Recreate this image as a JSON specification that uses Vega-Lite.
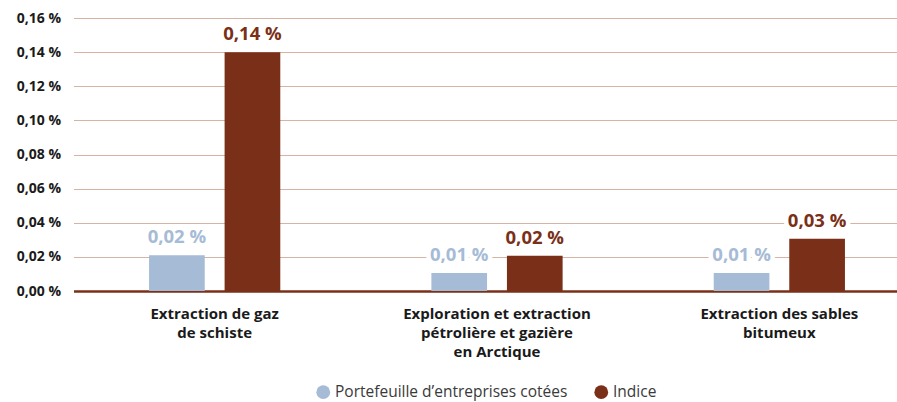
{
  "$schema": "https://vega.github.io/schema/vega-lite/v6.json",
  "width": 847,
  "height": 273,
  "autosize": {"type": "none"},
  "padding": {"left": 73.5, "top": 18, "right": 0, "bottom": 111},
  "background": "white",
  "config": {"view": {"stroke": null}, "font": "Open Sans"},
  "data": {
    "values": [
      {"cat": "Extraction de gaz|de schiste", "serie": "Portefeuille d’entreprises cotées", "value": 0.021},
      {"cat": "Extraction de gaz|de schiste", "serie": "Indice", "value": 0.14},
      {"cat": "Exploration et extraction|pétrolière et gazière|en Arctique", "serie": "Portefeuille d’entreprises cotées", "value": 0.0106},
      {"cat": "Exploration et extraction|pétrolière et gazière|en Arctique", "serie": "Indice", "value": 0.0206},
      {"cat": "Extraction des sables|bitumeux", "serie": "Portefeuille d’entreprises cotées", "value": 0.0106},
      {"cat": "Extraction des sables|bitumeux", "serie": "Indice", "value": 0.0306}
    ]
  },
  "transform": [
    {"calculate": "replace(format(datum.value, '.2f'), '.', ',') + '\u00a0%'", "as": "label"}
  ],
  "encoding": {
    "x": {"field": "cat", "type": "nominal", "sort": null,
      "scale": {"paddingInner": 0, "paddingOuter": 0},
      "axis": {"title": null, "labelAngle": 0, "ticks": false, "domain": true, "domainColor": "#7a2f18", "domainWidth": 2.5,
        "labelExpr": "split(datum.label, '|')", "labelFontSize": 15, "labelFontWeight": "bold",
        "labelColor": "#1a1a1a", "labelPadding": 15, "labelLineHeight": 19, "labelLimit": 0}},
    "xOffset": {"field": "serie", "type": "nominal",
      "sort": ["Portefeuille d’entreprises cotées", "Indice"],
      "scale": {"paddingInner": 0.263, "paddingOuter": 1.13}},
    "y": {"field": "value", "type": "quantitative",
      "scale": {"domain": [0, 0.16]},
      "axis": {"title": null, "values": [0, 0.02, 0.04, 0.06, 0.08, 0.1, 0.12, 0.14, 0.16],
        "labelExpr": "replace(format(datum.value, '.2f'), '.', ',') + ' %'", "labelOverlap": false,
        "grid": true, "gridColor": "#d6b3a2", "gridWidth": 1.2, "domain": false, "ticks": false,
        "labelFontSize": 14, "labelFontWeight": "bold", "labelColor": "#1a1a1a", "labelPadding": 13}}
  },
  "layer": [
    {
      "mark": {"type": "bar"},
      "encoding": {
        "color": {"field": "serie", "type": "nominal",
          "scale": {"domain": ["Portefeuille d’entreprises cotées", "Indice"], "range": ["#a6bbd6", "#7a2f18"]},
          "legend": {"title": null, "orient": "none", "legendX": 242, "legendY": 366, "direction": "horizontal", "symbolType": "circle",
            "symbolSize": 190, "labelFontSize": 15.5, "labelColor": "#3a3a3a", "columnPadding": 26, "labelLimit": 0,
            "symbolStrokeWidth": 0}}
      }
    },
    {
      "mark": {"type": "text", "baseline": "alphabetic", "dy": -12, "fontSize": 18.5, "fontWeight": "bold",
        "stroke": "white", "strokeWidth": 9, "fill": "white", "strokeJoin": "round"},
      "encoding": {
        "text": {"field": "label"}
      }
    },
    {
      "mark": {"type": "text", "baseline": "alphabetic", "dy": -12, "fontSize": 18.5, "fontWeight": "bold"},
      "encoding": {
        "text": {"field": "label"},
        "color": {"field": "serie", "type": "nominal"}
      }
    }
  ]
}
